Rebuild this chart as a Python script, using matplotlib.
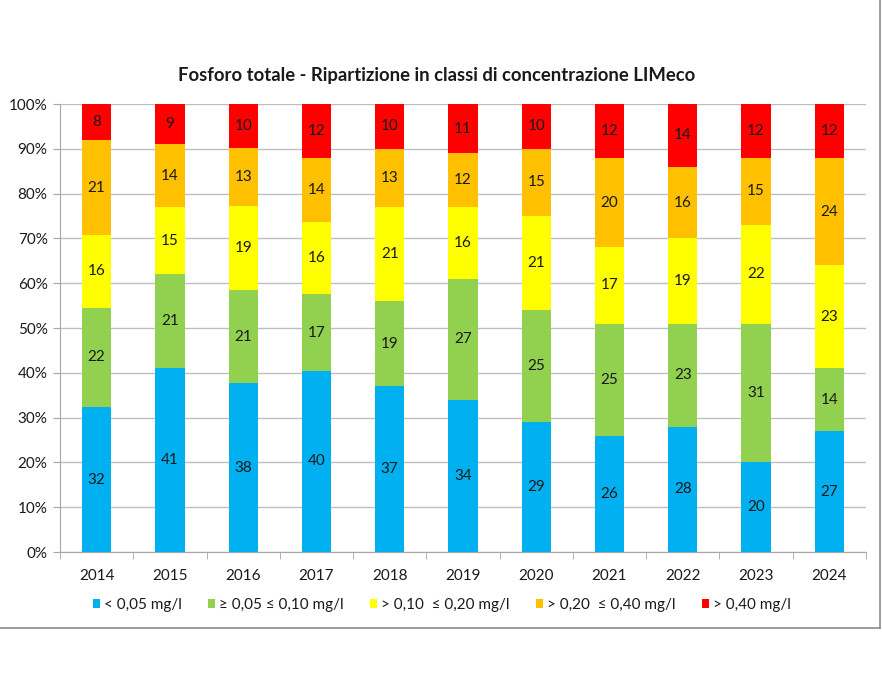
import matplotlib
matplotlib.use("Agg")
import matplotlib.pyplot as plt
import numpy as np
from matplotlib.lines import Line2D
from matplotlib.ticker import FixedLocator, PercentFormatter

plt.rcParams['font.family'] = ['Lato', 'DejaVu Sans']

years = ["2014", "2015", "2016", "2017", "2018", "2019", "2020", "2021", "2022", "2023", "2024"]
series_names = ["< 0,05 mg/l", "\u2265 0,05 \u2264 0,10 mg/l", "> 0,10  \u2264 0,20 mg/l",
                "> 0,20  \u2264 0,40 mg/l", "> 0,40 mg/l"]
blue = [32, 41, 38, 40, 37, 34, 29, 26, 28, 20, 27]
green = [22, 21, 21, 17, 19, 27, 25, 25, 23, 31, 14]
yellow = [16, 15, 19, 16, 21, 16, 21, 17, 19, 22, 23]
orange = [21, 14, 13, 14, 13, 12, 15, 20, 16, 15, 24]
red = [8, 9, 10, 12, 10, 11, 10, 12, 14, 12, 12]
colors = ["#00B0F0", "#92D050", "#FFFF00", "#FFC000", "#FF0000"]

data = np.array([blue, green, yellow, orange, red], dtype=float)
totals = data.sum(axis=0)
pct = data / totals * 100

fig = plt.figure(figsize=(8.82, 6.82), dpi=100)
# outer chart frame (bottom and right edges visible)
fig.lines.append(Line2D([0, 879.5/882], [1 - 627.5/682, 1 - 627.5/682], transform=fig.transFigure,
                        color="#8c8c8c", linewidth=1.2))
fig.lines.append(Line2D([879.5/882, 879.5/882], [1 - 627.5/682, 1.0], transform=fig.transFigure,
                        color="#8c8c8c", linewidth=1.2))
ax = fig.add_axes([60/882, 130/682, 806/882, 448/682])

x = np.arange(len(years))
bottom = np.zeros(len(years))
for i in range(5):
    ax.bar(x, pct[i], width=0.4, bottom=bottom, color=colors[i], label=series_names[i], zorder=3)
    for j in range(len(years)):
        ax.text(x[j], bottom[j] + pct[i][j] / 2, str(int(data[i][j])), ha="center", va="center",
                fontsize=11, color="#1a1a1a", zorder=4)
    bottom += pct[i]

ax.set_xlim(-0.5, len(years) - 0.5)
ax.set_ylim(0, 100)
ax.yaxis.set_major_locator(FixedLocator(np.arange(0, 101, 10)))
ax.yaxis.set_major_formatter(PercentFormatter(decimals=0))
ax.grid(axis="y", color="#bfbfbf", linewidth=1.0, zorder=0)
ax.set_xticks(x)
ax.set_xticklabels(years)
ax.set_xticks(np.arange(-0.5, len(years), 1), minor=True)
ax.tick_params(axis="x", which="major", length=0, pad=12, labelsize=11, colors="#1a1a1a")
ax.tick_params(axis="x", which="minor", length=5, color="#a6a6a6", direction="out")
ax.tick_params(axis="y", length=5, color="#a6a6a6", labelsize=11, labelcolor="#1a1a1a", pad=4)
for s in ["top", "right"]:
    ax.spines[s].set_visible(False)
for s in ["left", "bottom"]:
    ax.spines[s].set_color("#a6a6a6")

fig.text(437/882, 1 - 75/682, "Fosforo totale - Ripartizione in classi di concentrazione LIMeco",
         ha="center", va="center", fontsize=13.3, fontweight="bold", color="#1a1a1a")

ax.legend(loc="center", bbox_to_anchor=(442/882, 1 - 605/682), bbox_transform=fig.transFigure,
          ncol=5, frameon=False, fontsize=11, handlelength=0.45, handleheight=0.45,
          handletextpad=0.25, columnspacing=1.75, labelcolor="#1a1a1a", borderpad=0)

fig.savefig("out.png", dpi=100)
